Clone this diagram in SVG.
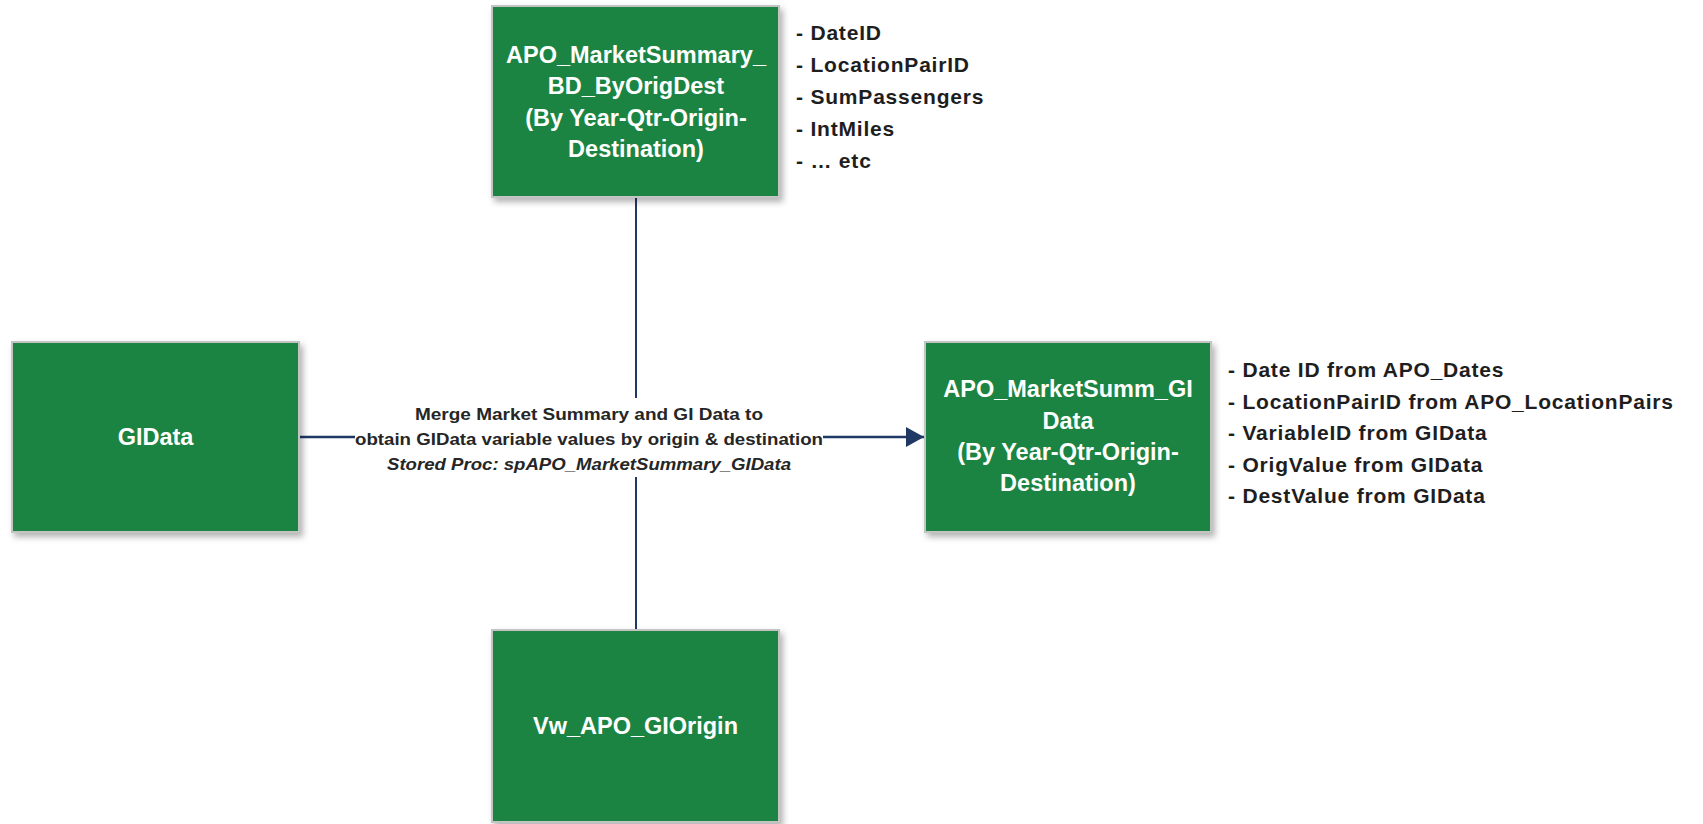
<svg xmlns="http://www.w3.org/2000/svg" width="1703" height="824" viewBox="0 0 1703 824">
  <defs>
    <filter id="shadow" x="-10%" y="-10%" width="125%" height="125%">
      <feGaussianBlur in="SourceAlpha" stdDeviation="3"/>
      <feOffset dx="3" dy="4" result="blur"/>
      <feFlood flood-color="#000" flood-opacity="0.3"/>
      <feComposite in2="blur" operator="in"/>
      <feMerge>
        <feMergeNode/>
        <feMergeNode in="SourceGraphic"/>
      </feMerge>
    </filter>
    <marker id="arrow" markerWidth="18" markerHeight="20" refX="18" refY="10" orient="auto" markerUnits="userSpaceOnUse">
      <path d="M0,0 L18,10 L0,20 Z" fill="#1f3864"/>
    </marker>
  </defs>
  <style>
    .box { fill: #1a8442; stroke: #c4c4c4; stroke-width: 2; filter: url(#shadow); }
    .title { font-family: "Liberation Sans", Arial, sans-serif; font-weight: bold; font-size: 23.5px; fill: #ffffff; text-anchor: middle; }
    .list { font-family: "Liberation Sans", Arial, sans-serif; font-weight: bold; font-size: 21px; letter-spacing: 0.8px; fill: #1e1e1e; }
    .edge { stroke: #1f3864; fill: none; }
    .label { font-family: "Liberation Sans", Arial, sans-serif; font-weight: bold; font-size: 17px; fill: #262626; text-anchor: middle; }
    .label-it { font-style: italic; }
  </style>

  <rect width="1703" height="824" fill="#ffffff"/>

  <!-- connectors -->
  <g id="connectors">
    <line class="edge" x1="636" y1="197" x2="636" y2="630" stroke-width="2"/>
    <line class="edge" x1="299" y1="437" x2="924" y2="437" stroke-width="2.5" marker-end="url(#arrow)"/>
    <g id="merge-label">
      <rect x="355" y="398" width="468" height="79" fill="#ffffff"/>
      <text class="label" x="589" y="420" textLength="348" lengthAdjust="spacingAndGlyphs">Merge Market Summary and GI Data to</text>
      <text class="label" x="589" y="445" textLength="468" lengthAdjust="spacingAndGlyphs">obtain GIData variable values by origin &amp; destination</text>
      <text class="label label-it" x="589" y="470" textLength="404" lengthAdjust="spacingAndGlyphs">Stored Proc: spAPO_MarketSummary_GIData</text>
    </g>
  </g>

  <!-- source: market summary by origin/destination -->
  <g id="market-summary">
    <rect class="box" x="492" y="6" width="287" height="191"/>
    <text class="title" x="636" y="63">APO_MarketSummary_</text>
    <text class="title" x="636" y="94">BD_ByOrigDest</text>
    <text class="title" x="636" y="126">(By Year-Qtr-Origin-</text>
    <text class="title" x="636" y="157">Destination)</text>
    <text class="list" x="796" y="40">- DateID</text>
    <text class="list" x="796" y="72">- LocationPairID</text>
    <text class="list" x="796" y="104">- SumPassengers</text>
    <text class="list" x="796" y="136">- IntMiles</text>
    <text class="list" x="796" y="168">- … etc</text>
  </g>

  <!-- source: GI data -->
  <g id="gidata">
    <rect class="box" x="12" y="342" width="287" height="190"/>
    <text class="title" x="155.5" y="445">GIData</text>
  </g>

  <!-- source: GI origin view -->
  <g id="vw-gi-origin">
    <rect class="box" x="492" y="630" width="287" height="192"/>
    <text class="title" x="635.5" y="734">Vw_APO_GIOrigin</text>
  </g>

  <!-- target table -->
  <g id="market-summ-gidata">
    <rect class="box" x="925" y="342" width="286" height="190"/>
    <text class="title" x="1068" y="397">APO_MarketSumm_GI</text>
    <text class="title" x="1068" y="429">Data</text>
    <text class="title" x="1068" y="460">(By Year-Qtr-Origin-</text>
    <text class="title" x="1068" y="491">Destination)</text>
    <text class="list" x="1228" y="377">- Date ID from APO_Dates</text>
    <text class="list" x="1228" y="409">- LocationPairID from APO_LocationPairs</text>
    <text class="list" x="1228" y="440">- VariableID from GIData</text>
    <text class="list" x="1228" y="472">- OrigValue from GIData</text>
    <text class="list" x="1228" y="503">- DestValue from GIData</text>
  </g>
</svg>
